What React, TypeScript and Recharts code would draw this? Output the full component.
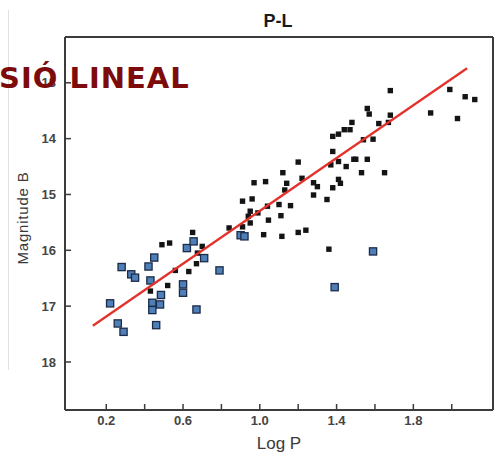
import React from "react";
import { ScatterChart, Scatter, XAxis, YAxis } from "recharts";

// black: field stars, blue: cluster stars (Log P vs B magnitude)
const blackLogP = [
  0.49, 0.53, 0.65, 0.70, 0.675, 0.56, 0.63, 0.67, 0.43, 0.52, 0.84, 0.91, 0.91, 0.96, 0.95, 0.94, 0.99,
  1.04, 1.10, 1.16, 1.11, 1.045, 0.95, 1.02, 1.115, 1.20, 1.24, 1.36, 0.97, 1.03, 1.14, 1.13, 1.12, 1.20,
  1.22, 1.28, 1.30, 1.28, 1.35, 1.38, 1.37, 1.41, 1.45, 1.41, 1.42, 1.38, 1.49, 1.50, 1.56, 1.53, 1.65,
  1.38, 1.41, 1.44, 1.47, 1.48, 1.54, 1.59, 1.56, 1.57, 1.62, 1.67, 1.68, 1.68, 1.89, 1.99, 2.03, 2.07, 2.12,
];
const blackMag = [
  15.90, 15.87, 15.68, 15.93, 16.05, 16.36, 16.38, 16.24, 16.73, 16.63, 15.60, 15.58, 15.12, 15.08, 15.30, 15.39, 15.33,
  15.21, 15.18, 15.20, 15.38, 15.46, 15.51, 15.72, 15.75, 15.68, 15.64, 15.98, 14.79, 14.77, 14.80, 14.92, 14.61, 14.42,
  14.71, 14.79, 14.86, 15.01, 15.09, 14.23, 14.47, 14.41, 14.50, 14.73, 14.80, 14.88, 14.37, 14.37, 14.37, 14.61, 14.61,
  13.96, 13.92, 13.84, 13.84, 13.71, 14.02, 14.01, 13.46, 13.56, 13.73, 13.71, 13.58, 13.14, 13.54, 13.12, 13.64, 13.25, 13.30,
];
const blueLogP = [
  0.28, 0.33, 0.35, 0.22, 0.26, 0.29, 0.45, 0.42, 0.43, 0.485, 0.44, 0.48, 0.44,
  0.46, 0.60, 0.60, 0.67, 0.62, 0.655, 0.71, 0.79, 0.90, 0.92, 1.59, 1.39,
];
const blueMag = [
  16.30, 16.43, 16.49, 16.95, 17.31, 17.46, 16.13, 16.29, 16.54, 16.80, 16.94, 16.97, 17.07,
  17.34, 16.61, 16.76, 17.06, 15.96, 15.84, 16.14, 16.36, 15.73, 15.75, 16.02, 16.66,
];
const fitLogP = [0.13, 2.08];
const fitMag = [17.35, 12.74];

const xTicks = [0.2, 0.4, 0.6, 0.8, 1.0, 1.2, 1.4, 1.6, 1.8, 2.0];
const xLabelled = [0.2, 0.6, 1.0, 1.4, 1.8];
const yTicks = [13, 14, 15, 16, 17, 18];

const blackData = blackLogP.map((x, i) => ({ x, y: blackMag[i] }));
const blueData = blueLogP.map((x, i) => ({ x, y: blueMag[i] }));
const fitData = fitLogP.map((x, i) => ({ x, y: fitMag[i] }));

const AXIS = "#3c3c3c";
const FONT = "'Liberation Sans', Arial, sans-serif";
const tickStyle = { fill: "#454545", fontSize: 13, fontWeight: "bold", fontFamily: FONT };

const BlackSquare = (p: any) => <rect x={p.cx - 2.7} y={p.cy - 2.7} width={5.4} height={5.4} fill="#141414" />;
const BlueSquare = (p: any) => (
  <rect x={p.cx - 3.6} y={p.cy - 3.6} width={7.2} height={7.2} fill="#4f7fb8" stroke="#1c2c48" strokeWidth={1.3} />
);
const NoDot = () => <g />;

export default function App() {
  return (
    <div style={{ position: "absolute", left: 0, top: 0, width: 494, height: 455, background: "#fff" }}>
      <div style={{ position: "absolute", left: 8, top: 10, width: 1, height: 360, background: "#e2e2e2" }} />
      <ScatterChart width={494} height={455} margin={{ top: 36, right: 0, bottom: 0, left: 8 }}>
        <XAxis
          xAxisId="b"
          dataKey="x"
          type="number"
          domain={[-0.015, 2.215]}
          ticks={xTicks}
          tickFormatter={(v: number) => (xLabelled.some((t) => Math.abs(t - v) < 1e-6) ? v.toFixed(1) : "")}
          allowDataOverflow
          height={45}
          tickSize={-6}
          tickMargin={12}
          tick={tickStyle}
          axisLine={{ stroke: AXIS, strokeWidth: 2 }}
          tickLine={{ stroke: AXIS, strokeWidth: 1.5 }}
          label={{
            content: () => (
              <text x={279} y={449} textAnchor="middle" fontSize={17} fontFamily={FONT} fill="#3a3a3a">
                Log P
              </text>
            ),
          }}
        />
        <XAxis
          xAxisId="t"
          orientation="top"
          type="number"
          domain={[-0.015, 2.215]}
          ticks={xTicks}
          allowDataOverflow
          height={1}
          tickSize={-6}
          tick={false}
          axisLine={{ stroke: AXIS, strokeWidth: 2 }}
          tickLine={{ stroke: AXIS, strokeWidth: 1.5 }}
          label={{
            content: () => (
              <text x={278} y={27} textAnchor="middle" fontSize={18} fontWeight="bold" fontFamily={FONT} fill="#1a1a1a">
                P-L
              </text>
            ),
          }}
        />
        <YAxis
          yAxisId="l"
          dataKey="y"
          type="number"
          reversed
          domain={[12.18, 18.86]}
          ticks={yTicks}
          allowDataOverflow
          width={57}
          tickSize={-6}
          tickMargin={15}
          tick={tickStyle}
          axisLine={{ stroke: AXIS, strokeWidth: 2 }}
          tickLine={{ stroke: AXIS, strokeWidth: 1.5 }}
          label={{
            content: () => (
              <text
                x={28}
                y={218}
                transform="rotate(-90 28 218)"
                textAnchor="middle"
                fontSize={15}
                letterSpacing={0.8}
                fontFamily={FONT}
                fill="#3a3a3a"
              >
                Magnitude B
              </text>
            ),
          }}
        />
        <YAxis
          yAxisId="r"
          orientation="right"
          type="number"
          reversed
          domain={[12.18, 18.86]}
          ticks={yTicks}
          allowDataOverflow
          width={1}
          tickSize={-6}
          tick={false}
          axisLine={{ stroke: AXIS, strokeWidth: 2 }}
          tickLine={{ stroke: AXIS, strokeWidth: 1.5 }}
        />
        <Scatter xAxisId="b" yAxisId="l" data={blackData} shape={BlackSquare} isAnimationActive={false} />
        <Scatter xAxisId="b" yAxisId="l" data={blueData} shape={BlueSquare} isAnimationActive={false} />
        <Scatter
          xAxisId="b"
          yAxisId="l"
          data={fitData}
          shape={NoDot}
          line={{ stroke: "#e2322b", strokeWidth: 2.3 }}
          isAnimationActive={false}
        />
      </ScatterChart>
      <div
        style={{
          position: "absolute",
          left: -1,
          top: 60,
          fontFamily: "'DejaVu Sans', sans-serif",
          fontWeight: "bold",
          fontSize: 29,
          letterSpacing: 1,
          lineHeight: "36px",
          color: "#7d0b0b",
          whiteSpace: "nowrap",
        }}
      >
        SIÓ LINEAL
      </div>
    </div>
  );
}
